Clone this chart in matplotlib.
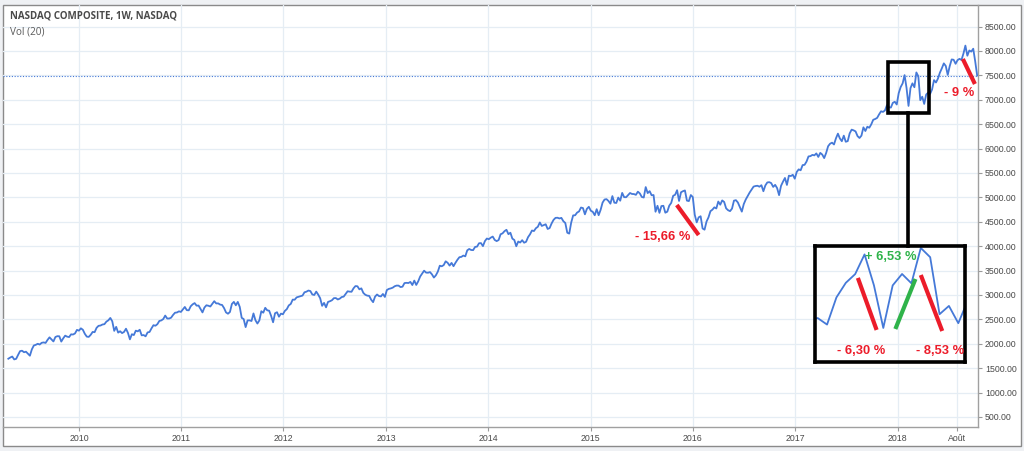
import pandas as pd
import matplotlib
matplotlib.use('Agg')
import matplotlib.pyplot as plt
import matplotlib.dates as mdates
from matplotlib.patches import Rectangle

# weekly closes of the NASDAQ Composite, one list per year
close_2009 = [1694, 1719, 1739, 1680, 1692, 1774, 1850, 1858, 1827, 1838,
              1797, 1756, 1886, 1965, 1979, 2000, 1985, 2020, 2028, 2018,
              2080, 2132, 2091, 2048, 2139, 2156, 2154, 2045, 2112, 2167,
              2146, 2138, 2194, 2190, 2212, 2285]
close_2010 = [2269, 2317, 2288, 2205, 2147, 2141, 2184, 2243, 2238, 2327,
              2368, 2374, 2395, 2402, 2454, 2481, 2530, 2461, 2265, 2347,
              2229, 2257, 2219, 2243, 2309, 2223, 2091, 2196, 2179, 2269,
              2255, 2288, 2173, 2179, 2153, 2233, 2242, 2316, 2381, 2370,
              2402, 2468, 2479, 2507, 2578, 2518, 2518, 2535, 2591, 2637,
              2642, 2665, 2653]
close_2011 = [2703, 2755, 2689, 2686, 2769, 2809, 2834, 2781, 2784, 2715,
              2643, 2743, 2789, 2780, 2764, 2820, 2873, 2827, 2828, 2803,
              2796, 2732, 2643, 2616, 2652, 2816, 2859, 2789, 2858, 2756,
              2532, 2507, 2342, 2479, 2480, 2467, 2622, 2483, 2415, 2479,
              2667, 2637, 2737, 2686, 2678, 2572, 2441, 2626, 2647, 2555,
              2618, 2605]
close_2012 = [2674, 2710, 2786, 2816, 2905, 2903, 2951, 2963, 2977, 2988,
              3055, 3068, 3091, 3081, 3011, 3000, 3069, 3008, 2934, 2778,
              2838, 2747, 2858, 2872, 2892, 2935, 2937, 2908, 2925, 2958,
              2967, 3020, 3076, 3069, 3066, 3136, 3183, 3179, 3116, 3136,
              3044, 3005, 2987, 2982, 2904, 2853, 2967, 3010, 2978, 2971,
              3021, 2960]
close_2013 = [3101, 3125, 3135, 3150, 3179, 3193, 3192, 3162, 3170, 3244,
              3249, 3245, 3268, 3204, 3295, 3206, 3280, 3379, 3437, 3498,
              3459, 3456, 3469, 3423, 3357, 3403, 3479, 3600, 3588, 3613,
              3690, 3660, 3602, 3658, 3590, 3660, 3722, 3774, 3781, 3808,
              3792, 3915, 3943, 3922, 3919, 3985, 3991, 4060, 4063, 4001,
              4104, 4157]
close_2014 = [4143, 4175, 4197, 4128, 4104, 4126, 4244, 4263, 4308, 4336,
              4245, 4276, 4155, 4127, 3999, 4095, 4075, 4123, 4071, 4090,
              4185, 4243, 4321, 4310, 4368, 4398, 4486, 4415, 4432, 4449,
              4353, 4371, 4465, 4539, 4580, 4583, 4568, 4580, 4512, 4475,
              4276, 4258, 4483, 4631, 4633, 4688, 4712, 4792, 4781, 4653,
              4765, 4807]
close_2015 = [4727, 4704, 4634, 4758, 4635, 4744, 4893, 4956, 4964, 4927,
              4871, 5026, 4891, 4886, 4996, 4932, 5092, 5005, 5003, 5048,
              5090, 5070, 5068, 5052, 5117, 5081, 5009, 4997, 5211, 5088,
              5128, 5044, 5048, 4706, 4828, 4683, 4822, 4828, 4686, 4707,
              4830, 4887, 5032, 5054, 5147, 4927, 5105, 5127, 5142, 4934,
              4924, 5048]
close_2016 = [5007, 4644, 4488, 4591, 4614, 4363, 4338, 4504, 4590, 4717,
              4748, 4796, 4773, 4915, 4850, 4938, 4906, 4775, 4737, 4718,
              4770, 4933, 4943, 4895, 4801, 4708, 4863, 4956, 5030, 5100,
              5162, 5221, 5233, 5238, 5219, 5250, 5126, 5245, 5306, 5312,
              5292, 5214, 5257, 5190, 5046, 5237, 5322, 5398, 5255, 5445,
              5437, 5463, 5383]
close_2017 = [5521, 5574, 5555, 5661, 5667, 5734, 5839, 5845, 5871, 5861,
              5901, 5829, 5912, 5878, 5805, 5910, 6048, 6100, 6121, 6084,
              6210, 6306, 6208, 6151, 6265, 6140, 6153, 6312, 6388, 6374,
              6352, 6256, 6217, 6265, 6435, 6360, 6448, 6427, 6496, 6590,
              6606, 6629, 6701, 6764, 6751, 6783, 6890, 6848, 6840, 6937,
              6959, 6903]
close_2018 = [7136, 7261, 7336, 7505, 7240, 6874, 7239, 7337, 7257, 7560,
              7481, 6992, 7063, 6915, 7107, 7146, 7120, 7210, 7403, 7354,
              7434, 7555, 7646, 7746, 7692, 7510, 7688, 7826, 7820, 7737,
              7812, 7839, 7816, 7946, 8110, 7903, 8010, 7987, 8046, 7788,
              7497]

close = (close_2009 + close_2010 + close_2011 + close_2012 + close_2013 +
         close_2014 + close_2015 + close_2016 + close_2017 + close_2018)
dates = pd.date_range('2009-04-24', periods=len(close), freq='W-FRI')

year_ticks = [pd.Timestamp(f'{y}-01-01') for y in range(2010, 2019)] + [pd.Timestamp('2018-08-01')]
year_labels = [str(y) for y in range(2010, 2019)] + ['Août']
price_ticks = list(range(500, 8501, 500))

# trend strokes: (start date, start value, end date, end value)
main_moves = [('2015-11-05', 4844, '2016-01-22', 4229),
              ('2018-08-22', 7835, '2018-10-04', 7323)]
zoom_moves = [('2018-01-21', 7303, '2018-02-04', 6857, 'red'),
              ('2018-02-18', 6865, '2018-03-05', 7294, 'green'),
              ('2018-03-09', 7328, '2018-03-25', 6848, 'red')]

RED = '#ec1c2a'
GREEN = '#2fb34a'
BLUE = '#4579d8'
GRID = '#e5edf4'

W, H = 1024, 451
fig = plt.figure(figsize=(W / 100, H / 100), dpi=100, facecolor='#eff1f4')

def fx(px):
    return px / W

def fy(py):
    return 1 - py / H

# white chart panel with a grey frame
fig.patches.append(Rectangle((fx(3), fy(446)), fx(1021) - fx(3), fy(5) - fy(446),
                             transform=fig.transFigure, facecolor='white',
                             edgecolor='#8a8a8a', lw=1, zorder=-5))

ax = fig.add_axes([fx(3), fy(427), fx(978) - fx(3), fy(5) - fy(427)])
ax.set_zorder(1)
ax.set_facecolor('none')
ax.plot(dates, close, color=BLUE, lw=1.3, zorder=3)
ax.axhline(close[-1], color=BLUE, lw=0.8, ls=(0, (1, 1.5)), zorder=2)

ax.set_xlim(pd.Timestamp('2009-04-05'), pd.Timestamp('2018-10-15'))
ax.set_ylim(295, 8942)
ax.set_xticks(year_ticks)
ax.set_xticklabels(year_labels)
ax.set_yticks(price_ticks)
ax.set_yticklabels([f'{v:.2f}' for v in price_ticks])
ax.yaxis.tick_right()
ax.grid(True, color=GRID, lw=0.9, zorder=0)
ax.tick_params(axis='both', length=3, width=0.8, color='#9a9a9a',
               labelsize=6.3, labelcolor='#4a4a4a', pad=2)
for lab in ax.get_xticklabels() + ax.get_yticklabels():
    lab.set_family('Liberation Sans')
for side in ['top', 'left']:
    ax.spines[side].set_visible(False)
for side in ['right', 'bottom']:
    ax.spines[side].set_color('#a0a0a0')
    ax.spines[side].set_linewidth(1)

fig.text(fx(10), fy(16), 'NASDAQ COMPOSITE, 1W, NASDAQ', fontsize=7.0,
         fontweight='bold', color='#4a4a4a', va='center', family='Open Sans')
fig.text(fx(10), fy(32), 'Vol (20)', fontsize=7.2, color='#5a5a5a',
         va='center', family='Open Sans')

# red strokes on the main chart
for d0, v0, d1, v1 in main_moves:
    ax.plot([pd.Timestamp(d0), pd.Timestamp(d1)], [v0, v1], color=RED,
            lw=3, solid_capstyle='butt', zorder=4)

# box around the early 2018 swings and link to the zoom
x0 = mdates.date2num(pd.Timestamp('2017-11-28'))
x1 = mdates.date2num(pd.Timestamp('2018-04-22'))
ax.add_patch(Rectangle((x0, 6730), x1 - x0, 7774 - 6730, fill=False,
                       edgecolor='black', lw=2.6, zorder=5))
fig.lines.append(plt.Line2D([fx(908), fx(908)], [fy(113), fy(246)],
                            transform=fig.transFigure, color='black', lw=2.6,
                            zorder=5))

# zoomed view
axz = fig.add_axes([fx(815), fy(362), fx(965) - fx(815), fy(246) - fy(362)])
axz.set_zorder(2)
axz.set_facecolor('none')
axz.plot(dates, close, color=BLUE, lw=1.3)
axz.set_xlim(pd.Timestamp('2017-12-20'), pd.Timestamp('2018-04-11'))
axz.set_ylim(6582, 7577)
axz.set_xticks([])
axz.set_yticks([])
for s in axz.spines.values():
    s.set_linewidth(2.6)
    s.set_color('black')
for d0, v0, d1, v1, c in zoom_moves:
    axz.plot([pd.Timestamp(d0), pd.Timestamp(d1)], [v0, v1],
             color=RED if c == 'red' else GREEN, lw=3, solid_capstyle='butt')

labels = [(663, 237, '- 15,66 %', RED), (959, 93, '- 9 %', RED),
          (891, 257, '+ 6,53 %', GREEN), (861, 351, '- 6,30 %', RED),
          (940, 351, '- 8,53 %', RED)]
for px, py, txt, c in labels:
    fig.text(fx(px), fy(py), txt, color=c, fontsize=9.3, fontweight='bold',
             ha='center', va='center', family='Liberation Sans', zorder=10)

fig.savefig('out.png', dpi=100, facecolor=fig.get_facecolor())
